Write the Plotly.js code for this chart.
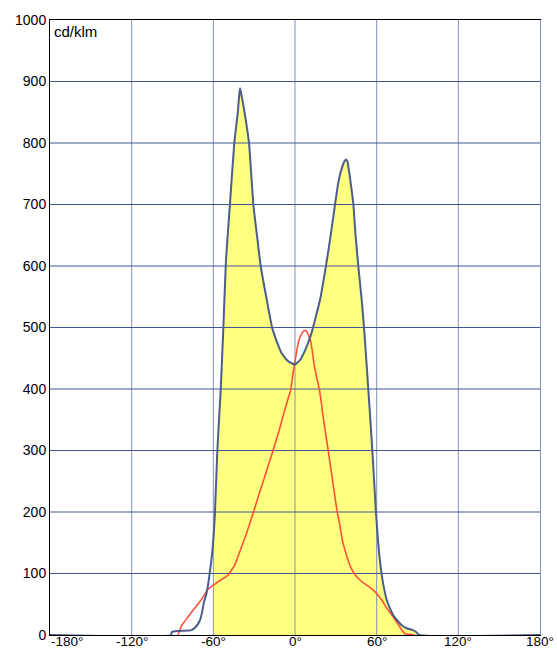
<!DOCTYPE html>
<html>
<head>
<meta charset="utf-8">
<script src="https://cdn.plot.ly/plotly-3.0.1.min.js"></script>
<style>html,body{margin:0;padding:0;background:#fff;}#chart{width:557px;height:650px;}</style>
</head>
<body>
<div id="chart"></div>
<script>
// Angles (degrees) and luminous intensity (cd/klm)
var blueAngle = [-180, -91, -90.5, -76, -73, -69.8, -68, -67, -65, -64, -63, -62, -61, -60, -58.8, -57.1, -54.6, -52.7, -50.7, -47.8, -44.6, -42, -41, -40.4, -39.5, -38, -36, -33.8, -30.6, -28.5, -25.2, -21, -16.7, -13, -9.8, -5, 0, 4, 8, 12, 15, 18.4, 22, 25.7, 29.4, 32, 34.5, 36.5, 37.5, 38.5, 40, 41.5, 42.9, 44.5, 46.5, 49, 50.7, 52.3, 53.9, 56.8, 59.5, 61.5, 63.7, 65.5, 67.4, 70, 72, 75, 78.4, 82, 86.7, 89, 91, 180];
var blueValue = [0, 0, 5, 8, 13, 24, 40, 52, 68, 80, 95, 112, 130, 155, 199, 298, 398, 496, 610, 700, 800, 850, 878, 889, 880, 862, 835, 800, 700, 660, 600, 548, 499, 475, 458, 445, 440, 448, 466, 490, 515, 545, 590, 642, 700, 738, 760, 771, 773, 770, 750, 725, 700, 650, 600, 545, 500, 450, 398, 301, 198, 140, 98, 75, 57, 42, 33, 24, 16, 11, 8, 5, 0, 0];

var redAngle = [-86, -84.5, -83.2, -80, -77, -74.7, -71, -67.4, -64.4, -62, -60, -55, -51, -49, -46.5, -44.5, -42.8, -39, -36, -33, -30.6, -27, -23, -20, -16.4, -12, -8, -5, -3.2, -1.5, 0, 1.5, 3, 5, 7, 8.5, 10, 11, 12.5, 14, 16, 18, 21, 24.5, 28, 31.1, 33, 34.8, 36.7, 38.5, 41, 44.1, 47, 50, 54, 57.5, 60.5, 63.7, 67, 71, 75, 78.4, 80.8, 84, 88];
var redValue = [0, 8, 16, 25, 34, 41, 51, 62, 73, 78, 81, 89, 94, 98, 106, 113, 122, 145, 163, 183, 199, 225, 252, 273, 298, 330, 362, 385, 398, 425, 445, 465, 480, 490, 495, 494, 487, 482, 465, 440, 418, 398, 350, 298, 245, 199, 178, 154, 138, 125, 110, 98, 91, 85, 79, 73, 66, 57, 45, 33, 20, 8, 2, 1, 0];

var xTicks = [-180, -120, -60, 0, 60, 120, 180];
var yTicks = [0, 100, 200, 300, 400, 500, 600, 700, 800, 900, 1000];
var unitLabel = 'cd/klm';
var fillStart = -60;

var xMin = xTicks[0], xMax = xTicks[xTicks.length - 1];
var yMin = yTicks[0], yMax = yTicks[yTicks.length - 1];

// Fill area: blue curve from fillStart onward
var fillX = [], fillY = [];
for (var i = 0; i < blueAngle.length; i++) {
  if (blueAngle[i] >= fillStart) { fillX.push(blueAngle[i]); fillY.push(blueValue[i]); }
}

// Grid lines drawn as traces so they appear over the fill
var vgx = [], vgy = [];
xTicks.forEach(function (t) { if (t > xMin && t < xMax) { vgx.push(t, t, null); vgy.push(yMin, yMax, null); } });
var hgx = [], hgy = [];
yTicks.forEach(function (t) { if (t > yMin && t < yMax) { hgx.push(xMin, xMax, null); hgy.push(t, t, null); } });

var traces = [
  {x: fillX, y: fillY, type: 'scatter', mode: 'none', fill: 'tozeroy', fillcolor: '#ffff80', line: {shape: 'spline', smoothing: 0.5}, hoverinfo: 'skip', showlegend: false},
  {x: vgx, y: vgy, type: 'scatter', mode: 'lines', line: {color: '#8392bd', width: 1}, hoverinfo: 'skip', showlegend: false},
  {x: hgx, y: hgy, type: 'scatter', mode: 'lines', line: {color: '#3f5797', width: 1}, hoverinfo: 'skip', showlegend: false},
  {x: redAngle, y: redValue, type: 'scatter', mode: 'lines', line: {color: '#ff4f3a', width: 1.6, shape: 'spline', smoothing: 0.5}, showlegend: false},
  {x: blueAngle, y: blueValue, type: 'scatter', mode: 'lines', line: {color: '#4b5d8d', width: 2, shape: 'spline', smoothing: 0.5}, showlegend: false},
  {x: [xMin, xMax], y: [yMin, yMin], yaxis: 'y2', type: 'scatter', mode: 'none', hoverinfo: 'skip', showlegend: false}
];

var font = {family: 'Liberation Sans, Arial, sans-serif', size: 14, color: '#000'};
var xFont = {family: font.family, size: 13.5, color: '#000'};

var annotations = [
  {text: unitLabel, xref: 'paper', yref: 'paper', x: 0, y: 1, xanchor: 'left', yanchor: 'top',
   xshift: 2, yshift: -1, showarrow: false, font: {family: font.family, size: 15, color: '#000'}}
];
xTicks.forEach(function (v, i) {
  annotations.push({text: v + '°', xref: 'x', yref: 'paper', x: v, y: 0,
    xanchor: i === 0 ? 'left' : 'center', yanchor: 'bottom', yshift: -15, borderpad: 0,
    showarrow: false, font: xFont});
});

var layout = {
  width: 557, height: 650,
  margin: {l: 50, r: 17, t: 20, b: 15, pad: 0},
  paper_bgcolor: '#fff', plot_bgcolor: '#fff',
  font: font,
  showlegend: false,
  xaxis: {
    range: [xMin, xMax], tickvals: xTicks,
    showticklabels: false,
    showgrid: false, zeroline: false, ticks: '',
    showline: true, linecolor: '#000', linewidth: 1, mirror: true,
    fixedrange: true
  },
  yaxis: {
    range: [yMin, yMax], tickvals: yTicks, ticktext: yTicks.map(String),
    showgrid: false, zeroline: false, ticks: '',
    showline: true, linecolor: '#000', linewidth: 1,
    tickfont: font, fixedrange: true
  },
  yaxis2: {
    range: [yMin, yMax], overlaying: 'y', side: 'right', anchor: 'x',
    showline: true, linecolor: '#8392bd', linewidth: 1,
    showgrid: false, zeroline: false, showticklabels: false, ticks: ''
  },
  annotations: annotations
};

Plotly.newPlot('chart', traces, layout, {displayModeBar: false, staticPlot: true});
</script>
</body>
</html>
